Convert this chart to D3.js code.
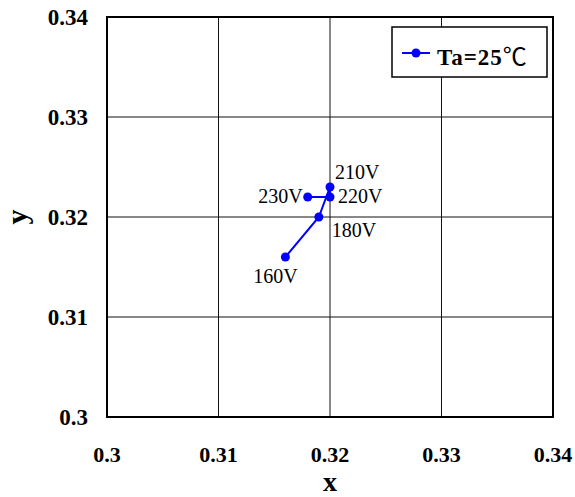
<!DOCTYPE html>
<html><head><meta charset="utf-8">
<script src="https://cdn.jsdelivr.net/npm/d3@7"></script>
<style>body{margin:0;background:#fff}</style>
</head><body>
<svg id="c" width="575" height="497"></svg>
<script>
const voltages = ["160V","180V","210V","220V","230V"];
const xValues = [0.316, 0.319, 0.320, 0.320, 0.318];
const yValues = [0.316, 0.320, 0.323, 0.322, 0.322];
const tickValues = [0.30, 0.31, 0.32, 0.33, 0.34];
const tickLabels = ["0.3","0.31","0.32","0.33","0.34"];
const seriesName = "Ta=25";
const seriesUnit = "℃";

const svg = d3.select("#c");
const m = {left:107, right:553, top:17, bottom:417};
const x = d3.scaleLinear().domain([0.30,0.34]).range([m.left,m.right]);
const y = d3.scaleLinear().domain([0.30,0.34]).range([m.bottom,m.top]);
const serif = "'Liberation Serif','Times New Roman',serif";

// gridlines
svg.append("g").selectAll("line").data(tickValues.slice(1,-1)).join("line")
  .attr("x1",d=>x(d)).attr("x2",d=>x(d)).attr("y1",m.top).attr("y2",m.bottom)
  .attr("stroke","#111").attr("stroke-width",1);
svg.append("g").selectAll("line").data(tickValues.slice(1,-1)).join("line")
  .attr("y1",d=>y(d)).attr("y2",d=>y(d)).attr("x1",m.left).attr("x2",m.right)
  .attr("stroke","#111").attr("stroke-width",1);
svg.append("rect").attr("x",m.left).attr("y",m.top).attr("width",m.right-m.left).attr("height",m.bottom-m.top)
  .attr("fill","none").attr("stroke","#000").attr("stroke-width",2);

// tick labels
svg.append("g").selectAll("text").data(tickValues).join("text")
  .attr("x",d=>x(d)).attr("y",462).attr("text-anchor","middle")
  .attr("font-family",serif).attr("font-weight","bold").attr("font-size",22)
  .text((d,i)=>tickLabels[i]);
svg.append("g").selectAll("text").data(tickValues).join("text")
  .attr("x",88).attr("y",d=>y(d)).attr("dy","0.36em").attr("text-anchor","end")
  .attr("font-family",serif).attr("font-weight","bold").attr("font-size",23)
  .text((d,i)=>tickLabels[i]);

// axis titles
svg.append("text").attr("x",330).attr("y",491).attr("text-anchor","middle")
  .attr("font-family",serif).attr("font-weight","bold").attr("font-size",28).text("x");
svg.append("text").attr("transform","translate(27,217) rotate(-90)").attr("text-anchor","middle")
  .attr("font-family",serif).attr("font-weight","bold").attr("font-size",30).text("y");

// series
const pts = xValues.map((v,i)=>({x:v,y:yValues[i],label:voltages[i]}));
svg.append("path").datum(pts)
  .attr("d",d3.line().x(d=>x(d.x)).y(d=>y(d.y)))
  .attr("fill","none").attr("stroke","#0000ff").attr("stroke-width",2);
svg.append("g").selectAll("circle").data(pts).join("circle")
  .attr("cx",d=>x(d.x)).attr("cy",d=>y(d.y)).attr("r",4.5).attr("fill","#0000ff");

// point labels
const offs = {"160V":[-10,26,"middle"],"180V":[13,20,"start"],"210V":[5,-8,"start"],"220V":[8,6,"start"],"230V":[-5,6,"end"]};
svg.append("g").selectAll("text").data(pts).join("text")
  .attr("x",d=>x(d.x)+offs[d.label][0]).attr("y",d=>y(d.y)+offs[d.label][1])
  .attr("text-anchor",d=>offs[d.label][2])
  .attr("font-family",serif).attr("font-size",20).attr("fill","#000").text(d=>d.label);

// legend
const lg = svg.append("g");
lg.append("rect").attr("x",392).attr("y",27).attr("width",155).attr("height",50)
  .attr("fill","#fff").attr("stroke","#000").attr("stroke-width",1.5);
lg.append("line").attr("x1",402).attr("x2",430).attr("y1",53).attr("y2",53)
  .attr("stroke","#0000ff").attr("stroke-width",2);
lg.append("circle").attr("cx",416).attr("cy",53).attr("r",4.5).attr("fill","#0000ff");
const lt = lg.append("text").attr("x",437).attr("y",65).attr("font-family",serif).attr("font-weight","bold")
  .attr("font-size",23).attr("letter-spacing",1);
lt.append("tspan").text(seriesName);
lt.append("tspan").attr("font-family","'Noto Sans CJK SC'").attr("font-weight","normal").attr("font-size",24).text(seriesUnit);
</script>
</body></html>
